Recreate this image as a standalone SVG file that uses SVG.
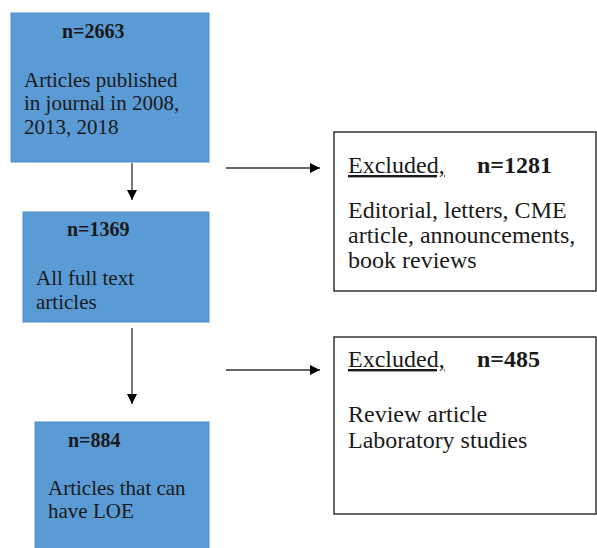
<svg xmlns="http://www.w3.org/2000/svg" width="597" height="548" viewBox="0 0 597 548">
<defs>
<marker id="ah" viewBox="0 0 10 10" refX="10" refY="5" markerWidth="10" markerHeight="10" markerUnits="userSpaceOnUse" orient="auto">
<path d="M0,0 L10,5 L0,10 z" fill="#000"/>
</marker>
<style>
.blue{fill:#5b9bd5;stroke:#4f8fcb;stroke-width:1}
.white{fill:#fff;stroke:#333;stroke-width:1.5}
text{font-family:"Liberation Serif","Times New Roman",serif;font-size:21px;fill:#1a1a1a}
.b{font-weight:bold;font-size:20px}
.r{font-size:24px}
.rb{font-size:24px;font-weight:bold}
.conn{stroke:#333;stroke-width:1.3;fill:none}
</style>
</defs>
<rect width="597" height="548" fill="#fff"/>
<g id="connectors">
<line class="conn" x1="132" y1="163" x2="132" y2="200" marker-end="url(#ah)"/>
<line class="conn" x1="132" y1="328" x2="132" y2="404" marker-end="url(#ah)"/>
<line class="conn" x1="226" y1="168" x2="320" y2="168" marker-end="url(#ah)"/>
<line class="conn" x1="226" y1="370" x2="320" y2="370" marker-end="url(#ah)"/>
</g>
<g id="node1">
<rect class="blue" x="11" y="13" width="198" height="149"/>
<text class="b" x="62" y="38">n=2663</text>
<text x="24" y="87">Articles published</text>
<text x="24" y="110">in journal in 2008,</text>
<text x="24" y="134">2013, 2018</text>
</g>
<g id="node2">
<rect class="blue" x="23" y="212" width="186" height="110"/>
<text class="b" x="67" y="236">n=1369</text>
<text x="36" y="285">All full text</text>
<text x="36" y="309">articles</text>
</g>
<g id="node3">
<rect class="blue" x="35" y="422" width="174" height="130"/>
<text class="b" x="68" y="447">n=884</text>
<text x="48" y="495">Articles that can</text>
<text x="48" y="518">have LOE</text>
</g>
<g id="excluded1">
<rect class="white" x="334" y="132" width="262" height="159"/>
<text class="r" x="348" y="173" text-decoration="underline">Excluded,</text>
<text class="rb" x="477" y="173">n=1281</text>
<text class="r" x="348" y="218">Editorial, letters, CME</text>
<text class="r" x="348" y="243">article, announcements,</text>
<text class="r" x="348" y="268">book reviews</text>
</g>
<g id="excluded2">
<rect class="white" x="334" y="337" width="262" height="177"/>
<text class="r" x="348" y="367" text-decoration="underline">Excluded,</text>
<text class="rb" x="477" y="367">n=485</text>
<text class="r" x="348" y="422">Review article</text>
<text class="r" x="348" y="448">Laboratory studies</text>
</g>
</svg>
